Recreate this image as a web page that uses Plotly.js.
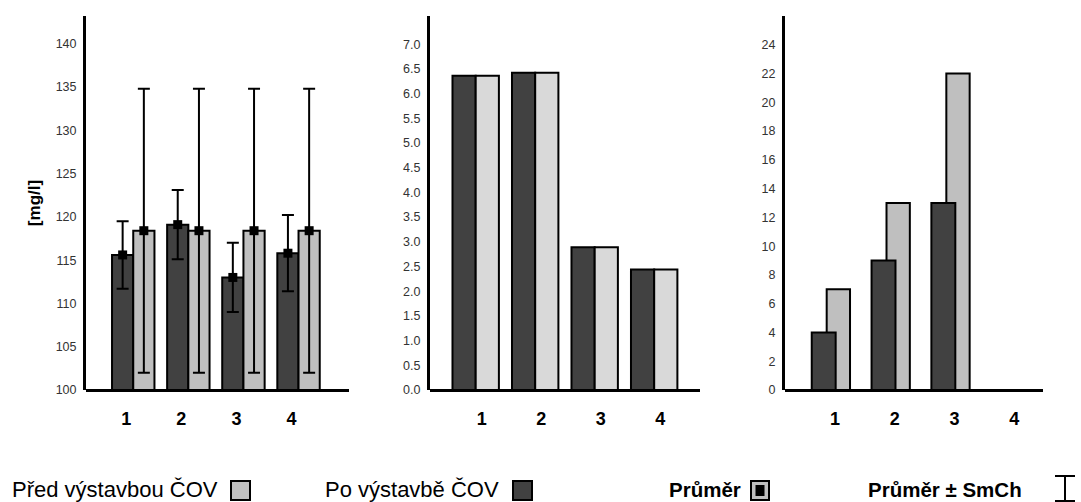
<!DOCTYPE html>
<html>
<head>
<meta charset="utf-8">
<script src="https://cdn.plot.ly/plotly-3.0.1.min.js"></script>
<style>
  html, body { margin: 0; padding: 0; background: #fff; }
  #chart { width: 1081px; height: 502px; }
</style>
</head>
<body>
<div id="chart"></div>
<script>
// Profile categories (x axis of every panel)
const categories = [1, 2, 3, 4];
const categoryLabels = ['1', '2', '3', '4'];

// Panel 1: mean concentration [mg/l] with standard error
const poMean  = [115.6, 119.1, 113.0, 115.8];
const poSe    = [3.9, 4.0, 4.0, 4.4];
const predMean = [118.4, 118.4, 118.4, 118.4];
const predSe   = [16.4, 16.4, 16.4, 16.4];

// Panel 2
const poP2   = [6.36, 6.42, 2.89, 2.44];
const predP2 = [6.36, 6.42, 2.89, 2.44];

// Panel 3
const poP3   = [4, 9, 13, 0];
const predP3 = [7, 13, 22, 0];

// Legend texts
const legendPred = 'Před výstavbou ČOV';
const legendPo = 'Po výstavbě ČOV';
const legendMean = 'Průměr';
const legendMeanSe = 'Průměr ± SmCh';

const W = 1081, H = 502;
const FONT = '"Liberation Sans", Arial, sans-serif';
const DARK = '#414141';
const LIGHT = '#bfbfbf';
const LIGHTER = '#d9d9d9';
const OUTLINE = { color: '#000', width: 2 };

const px = v => v / W;
const py = v => 1 - v / H;

const yDomain = [py(390), py(16)];

function barTrace(y, xa, ya, color, offset, width) {
  return {
    type: 'bar', x: categories, y: y, xaxis: xa, yaxis: ya,
    offset: offset, width: width,
    marker: { color: color, line: OUTLINE },
    hoverinfo: 'skip', showlegend: false
  };
}

// Panel 1: side-by-side bars with mean markers and SE whiskers
const w1 = 0.385;
function meanTrace(xs, ys, se) {
  return {
    type: 'scatter', mode: 'markers', xaxis: 'x', yaxis: 'y',
    x: xs, y: ys,
    marker: { symbol: 'square', size: 9, color: '#000' },
    error_y: { type: 'data', array: se, visible: true, color: '#000', thickness: 2, width: 6 },
    hoverinfo: 'skip', showlegend: false
  };
}
const traces = [
  barTrace(poMean, 'x', 'y', DARK, -w1, w1),
  barTrace(predMean, 'x', 'y', LIGHT, 0, w1),
  meanTrace(categories.map(c => c - w1 / 2), poMean, poSe),
  meanTrace(categories.map(c => c + w1 / 2), predMean, predSe),
  // Panel 2
  barTrace(poP2, 'x2', 'y2', DARK, -0.39, 0.39),
  barTrace(predP2, 'x2', 'y2', LIGHTER, 0, 0.39),
  // Panel 3: light bars sit behind the dark ones
  barTrace(predP3, 'x3', 'y3', LIGHT, -0.07, 0.39),
  barTrace(poP3, 'x3', 'y3', DARK, -0.32, 0.40)
];

function xAxis(domain, range, shift) {
  return {
    domain: domain, range: range, anchor: 'free', position: yDomain[0],
    tickvals: categories, ticktext: categoryLabels,
    ticks: '', showgrid: false, zeroline: false,
    showline: true, linecolor: '#000', linewidth: 3,
    tickfont: { family: FONT, size: 18, color: '#000', weight: 'bold' },
    ticklabelstandoff: 11, ticklabelshift: shift,
    fixedrange: true
  };
}
function yAxis(range, tickvals, fmt, anchor) {
  return {
    domain: yDomain, range: range, anchor: anchor,
    tickvals: tickvals, tickformat: fmt,
    ticks: '', showgrid: false, zeroline: false,
    showline: true, linecolor: '#000', linewidth: 3,
    tickfont: { family: FONT, size: 12.5, color: '#333' },
    ticklabelstandoff: 4,
    fixedrange: true
  };
}
const range = (a, b, s) => { const r = []; for (let v = a; v <= b + 1e-9; v += s) r.push(+v.toFixed(2)); return r; };

const layout = {
  width: W, height: H,
  margin: { l: 0, r: 0, t: 0, b: 0 },
  paper_bgcolor: '#fff', plot_bgcolor: '#fff',
  barmode: 'overlay',
  showlegend: false,
  font: { family: FONT },
  xaxis:  xAxis([px(86), px(349)], [0.1425, 4.916], -7),
  yaxis:  Object.assign(yAxis([100, 143.2], range(100, 140, 5), 'd', 'x'), {
    title: { text: '[mg/l]', font: { family: FONT, size: 17, color: '#000', weight: 'bold' }, standoff: 11 }
  }),
  xaxis2: xAxis([px(430), px(700)], [0.232, 4.77], 6),
  yaxis2: yAxis([0, 7.57], range(0, 7, 0.5), '.1f', 'x2'),
  xaxis3: xAxis([px(785), px(1043)], [0.233, 4.546], 4),
  yaxis3: yAxis([0, 26], range(0, 24, 2), 'd', 'x3'),
  annotations: [],
  shapes: []
};

// Legend row along the bottom edge
const legY = 489;
const legFont = (bold, size) => ({ family: FONT, size: size, color: '#000', weight: bold ? 'bold' : 'normal' });
function legText(text, x, bold, size) {
  layout.annotations.push({
    xref: 'paper', yref: 'paper', x: px(x), y: py(legY),
    xanchor: 'left', yanchor: 'middle', text: text, showarrow: false,
    font: legFont(bold, size)
  });
}
function legBox(x0, x1, fill) {
  layout.shapes.push({
    type: 'rect', xref: 'paper', yref: 'paper',
    x0: px(x0), x1: px(x1), y0: py(500), y1: py(481),
    fillcolor: fill, line: { color: '#000', width: 2 }
  });
}
legText(legendPred, 10, false, 22);
legBox(231, 250, LIGHT);
legText(legendPo, 323, false, 22);
legBox(513, 532, DARK);
legText(legendMean, 667, true, 20.5);
legBox(751, 769, LIGHT);
layout.shapes.push({
  type: 'rect', xref: 'paper', yref: 'paper',
  x0: px(755.5), x1: px(764.5), y0: py(496), y1: py(485),
  fillcolor: '#000', line: { width: 0 }
});
legText(legendMeanSe, 866, true, 20.5);
// whisker glyph
const gx = 1065;
[[gx, 475, gx, 502], [gx - 10, 476, gx + 10, 476], [gx - 10, 501, gx + 10, 501]].forEach(([a, b, c, d]) => {
  layout.shapes.push({
    type: 'line', xref: 'paper', yref: 'paper',
    x0: px(a), y0: py(b), x1: px(c), y1: py(d),
    line: { color: '#000', width: 2 }
  });
});

Plotly.newPlot('chart', traces, layout, { displayModeBar: false, staticPlot: true });
</script>
</body>
</html>
